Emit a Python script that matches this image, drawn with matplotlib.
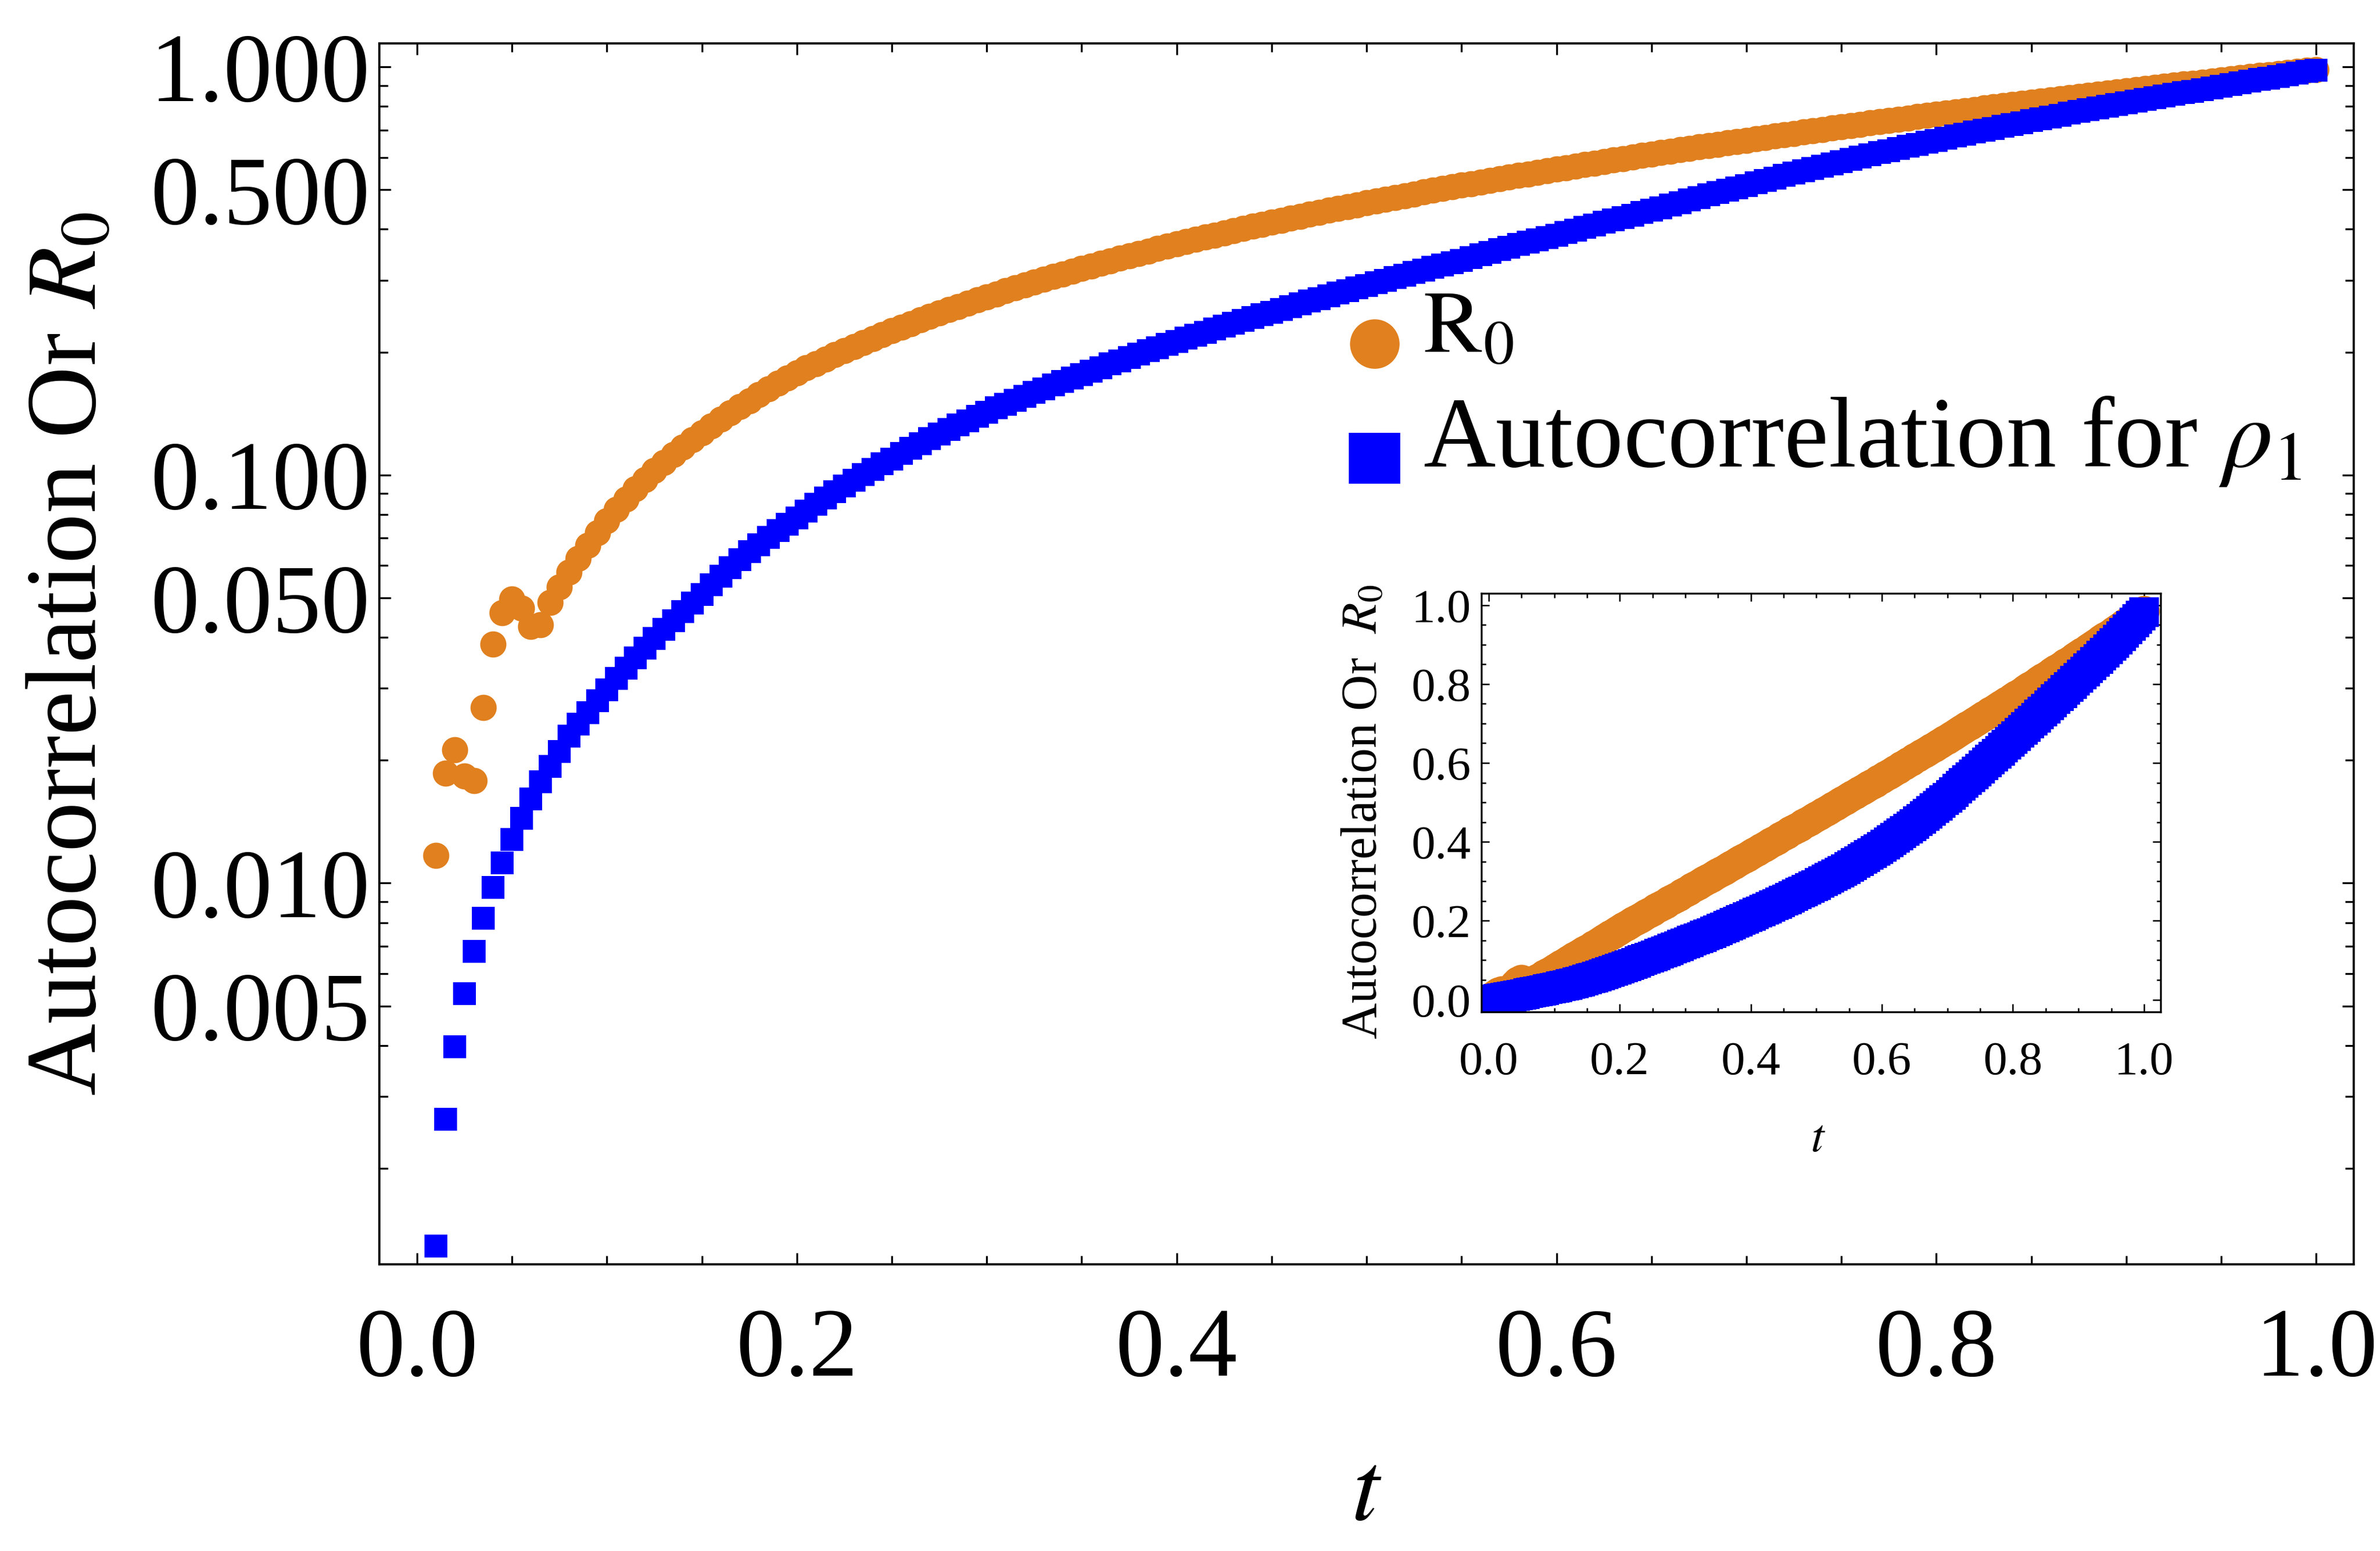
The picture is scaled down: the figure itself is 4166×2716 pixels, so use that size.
import matplotlib as mpl
import matplotlib.pyplot as plt
import numpy as np
from matplotlib.lines import Line2D
from matplotlib.markers import MarkerStyle
from matplotlib.transforms import Affine2D
from matplotlib.ticker import FixedLocator, MultipleLocator, NullFormatter

mpl.rcParams["font.family"] = ["Liberation Serif", "DejaVu Serif"]
mpl.rcParams["mathtext.fontset"] = "stix"

# sample times: 0.010, 0.015, ..., 1.000
t = np.arange(2, 201) * 0.005

r0 = [
    0.0117, 0.0186, 0.0212, 0.0183, 0.0178, 0.0269, 0.0385, 0.0459, 0.0496, 0.0472,
    0.0425, 0.0430, 0.0487, 0.0532, 0.0578, 0.0625, 0.0673, 0.0722, 0.0772, 0.0823,
    0.0874, 0.0925, 0.0975, 0.1024, 0.1073, 0.1121, 0.1170, 0.1219, 0.1268, 0.1318,
    0.1368, 0.1419, 0.1470, 0.1521, 0.1572, 0.1624, 0.1676, 0.1728, 0.1780,
    0.1828, 0.1875, 0.1923, 0.1970, 0.2018, 0.2065, 0.2113, 0.2160, 0.2208, 0.2255,
    0.2303, 0.2350, 0.2398, 0.2445, 0.2493, 0.2540, 0.2588, 0.2635, 0.2683, 0.2730,
    0.2778, 0.2825, 0.2873, 0.2920, 0.2968, 0.3015, 0.3063, 0.3110, 0.3158, 0.3205,
    0.3253, 0.3300, 0.3348, 0.3395, 0.3443, 0.3490, 0.3538, 0.3585, 0.3633, 0.3680,
    0.3728, 0.3776, 0.3824, 0.3872, 0.3920, 0.3968, 0.4016, 0.4064, 0.4112, 0.4160,
    0.4208, 0.4256, 0.4304, 0.4352, 0.4400, 0.4448, 0.4496, 0.4544, 0.4592, 0.4640,
    0.4689, 0.4737, 0.4786, 0.4834, 0.4883, 0.4931, 0.4980, 0.5028, 0.5077, 0.5125,
    0.5174, 0.5222, 0.5271, 0.5319, 0.5368, 0.5416, 0.5465, 0.5513, 0.5562, 0.5610,
    0.5660, 0.5710, 0.5760, 0.5810, 0.5860, 0.5910, 0.5960, 0.6010, 0.6060, 0.6110,
    0.6160, 0.6210, 0.6260, 0.6310, 0.6360, 0.6410, 0.6460, 0.6510, 0.6560, 0.6610,
    0.6662, 0.6714, 0.6766, 0.6818, 0.6870, 0.6922, 0.6974, 0.7026, 0.7078, 0.7130,
    0.7182, 0.7234, 0.7286, 0.7338, 0.7390, 0.7442, 0.7494, 0.7546, 0.7598, 0.7650,
    0.7704, 0.7758, 0.7812, 0.7866, 0.7920, 0.7974, 0.8028, 0.8082, 0.8136, 0.8190,
    0.8244, 0.8298, 0.8352, 0.8406, 0.8460, 0.8514, 0.8568, 0.8622, 0.8676, 0.8730,
    0.8786, 0.8842, 0.8898, 0.8954, 0.9010, 0.9066, 0.9122, 0.9178, 0.9234, 0.9290,
    0.9346, 0.9402, 0.9458, 0.9514, 0.9570, 0.9626, 0.9682, 0.9738, 0.9794, 0.9850,
]

rho1 = [
    0.00129, 0.00264, 0.00397, 0.00536, 0.00681, 0.00821, 0.00977, 0.0112, 0.0128, 0.0144,
    0.0161, 0.0177, 0.0193, 0.0210, 0.0229, 0.0245, 0.0262, 0.0280, 0.0298, 0.0317,
    0.0336, 0.0356, 0.0376, 0.0397, 0.0418, 0.0440, 0.0463, 0.0486, 0.0510,
    0.0538, 0.0565, 0.0593, 0.0620, 0.0648, 0.0675, 0.0703, 0.0730, 0.0758, 0.0785,
    0.0816, 0.0847, 0.0878, 0.0909, 0.0940, 0.0971, 0.1002, 0.1033, 0.1064, 0.1095,
    0.1128, 0.1161, 0.1194, 0.1227, 0.1260, 0.1293, 0.1326, 0.1359, 0.1392, 0.1425,
    0.1459, 0.1492, 0.1526, 0.1559, 0.1593, 0.1626, 0.1660, 0.1693, 0.1727, 0.1760,
    0.1797, 0.1833, 0.1870, 0.1906, 0.1943, 0.1979, 0.2016, 0.2052, 0.2089, 0.2125,
    0.2163, 0.2201, 0.2239, 0.2277, 0.2315, 0.2353, 0.2391, 0.2429, 0.2467, 0.2505,
    0.2546, 0.2586, 0.2627, 0.2667, 0.2708, 0.2748, 0.2789, 0.2829, 0.2870, 0.2910,
    0.2955, 0.3000, 0.3045, 0.3090, 0.3135, 0.3180, 0.3225, 0.3270, 0.3315, 0.3360,
    0.3411, 0.3462, 0.3513, 0.3564, 0.3615, 0.3666, 0.3717, 0.3768, 0.3819, 0.3870,
    0.3928, 0.3986, 0.4044, 0.4102, 0.4160, 0.4218, 0.4276, 0.4334, 0.4392, 0.4450,
    0.4517, 0.4584, 0.4651, 0.4718, 0.4785, 0.4852, 0.4919, 0.4986, 0.5053, 0.5120,
    0.5194, 0.5268, 0.5342, 0.5416, 0.5490, 0.5564, 0.5638, 0.5712, 0.5786, 0.5860,
    0.5935, 0.6010, 0.6085, 0.6160, 0.6235, 0.6310, 0.6385, 0.6460, 0.6535, 0.6610,
    0.6687, 0.6764, 0.6841, 0.6918, 0.6995, 0.7072, 0.7149, 0.7226, 0.7303, 0.7380,
    0.7458, 0.7536, 0.7614, 0.7692, 0.7770, 0.7848, 0.7926, 0.8004, 0.8082, 0.8160,
    0.8240, 0.8320, 0.8400, 0.8480, 0.8560, 0.8640, 0.8720, 0.8800, 0.8880, 0.8960,
    0.9046, 0.9132, 0.9218, 0.9304, 0.9390, 0.9476, 0.9562, 0.9648, 0.9734, 0.9820,
]

xtick_vals = [0.0, 0.2, 0.4, 0.6, 0.8, 1.0]
xtick_labels = ["0.0", "0.2", "0.4", "0.6", "0.8", "1.0"]
ytick_vals = [0.005, 0.01, 0.05, 0.1, 0.5, 1.0]
ytick_labels = ["0.005", "0.010", "0.050", "0.100", "0.500", "1.000"]
yminor_vals = [0.002, 0.003, 0.004, 0.006, 0.007, 0.008, 0.009,
               0.02, 0.03, 0.04, 0.06, 0.07, 0.08, 0.09,
               0.2, 0.3, 0.4, 0.6, 0.7, 0.8, 0.9]
inset_ytick_vals = [0.0, 0.2, 0.4, 0.6, 0.8, 1.0]
inset_ytick_labels = ["0.0", "0.2", "0.4", "0.6", "0.8", "1.0"]

orange = "#e0801f"
blue = "#0000ff"

fig = plt.figure(figsize=(4166 / 300, 2716 / 300), dpi=300)

# main log plot
ax = fig.add_axes([0.1594, 0.1848, 0.8296, 0.7872])
ax.plot(t, r0, ls="none", marker="o", ms=11, mew=0, color=orange)
ax.plot(t, rho1, ls="none", marker="s", ms=9.8, mew=0, color=blue)
ax.set_yscale("log")
ax.set_xlim(-0.0198, 1.0198)
ax.set_ylim(0.001164, 1.141)
ax.set_xticks(xtick_vals, xtick_labels)
ax.xaxis.set_minor_locator(MultipleLocator(0.05))
ax.set_yticks(ytick_vals, ytick_labels)
ax.yaxis.set_minor_locator(FixedLocator(yminor_vals))
ax.yaxis.set_minor_formatter(NullFormatter())
ax.tick_params(which="both", direction="in", top=True, right=True, width=0.8)
ax.tick_params(which="major", length=4.8)
ax.tick_params(which="minor", length=3.6)
ax.tick_params(axis="x", labelsize=41, pad=18)
ax.tick_params(axis="y", labelsize=41, pad=4)
for s in ax.spines.values():
    s.set_linewidth(0.9)
ax.text(-0.156, 0.5, "Autocorrelation Or $R_0$", transform=ax.transAxes,
        rotation=90, ha="center", va="center", fontsize=42)
ax.text(0.5, -0.189, "$t$", transform=ax.transAxes, ha="center", va="center",
        fontsize=42)

# legend
h1 = Line2D([], [], ls="none", color=orange, mew=0, ms=20.8,
            marker=MarkerStyle("o", transform=Affine2D().translate(0, -0.45)))
h2 = Line2D([], [], ls="none", color=blue, mew=0, ms=21.4,
            marker=MarkerStyle("s", transform=Affine2D().translate(0, -0.52)))
fig.legend([h1], [r"$\mathrm{R}_0$"], loc="center left",
           bbox_to_anchor=(0.5571, 1 - 579 / 2716), fontsize=37, frameon=False,
           borderpad=0, borderaxespad=0, handlelength=1.103, handletextpad=0)
fig.legend([h2], [r"Autocorrelation for $\rho_1$"], loc="center left",
           bbox_to_anchor=(0.5571, 1 - 773 / 2716), fontsize=42, frameon=False,
           borderpad=0, borderaxespad=0, handlelength=0.971, handletextpad=0)

# inset, linear scale
axi = fig.add_axes([0.6224, 0.3477, 0.2854, 0.2699])
axi.plot(t, r0, ls="none", marker="o", ms=13, mew=0, color=orange)
axi.plot(t, rho1, ls="none", marker="s", ms=12.5, mew=0, color=blue)
axi.set_xlim(-0.0113, 1.0253)
axi.set_ylim(-0.0305, 1.0304)
axi.set_xticks(xtick_vals, xtick_labels)
axi.set_yticks(inset_ytick_vals, inset_ytick_labels)
axi.xaxis.set_minor_locator(MultipleLocator(0.05))
axi.yaxis.set_minor_locator(MultipleLocator(0.05))
axi.tick_params(which="both", direction="in", top=True, right=True, width=0.6)
axi.tick_params(which="major", length=3.4)
axi.tick_params(which="minor", length=1.8)
axi.tick_params(axis="x", labelsize=20, pad=12.5)
axi.tick_params(axis="y", labelsize=20, pad=4.3)
for s in axi.spines.values():
    s.set_linewidth(0.8)
axi.text(-0.173, 0.478, "Autocorrelation Or  $R_0$", transform=axi.transAxes,
         rotation=90, ha="center", va="center", fontsize=21)
axi.text(0.496, -0.306, "$t$", transform=axi.transAxes, ha="center", va="center",
         fontsize=20)

fig.savefig("out.png", dpi=300)
